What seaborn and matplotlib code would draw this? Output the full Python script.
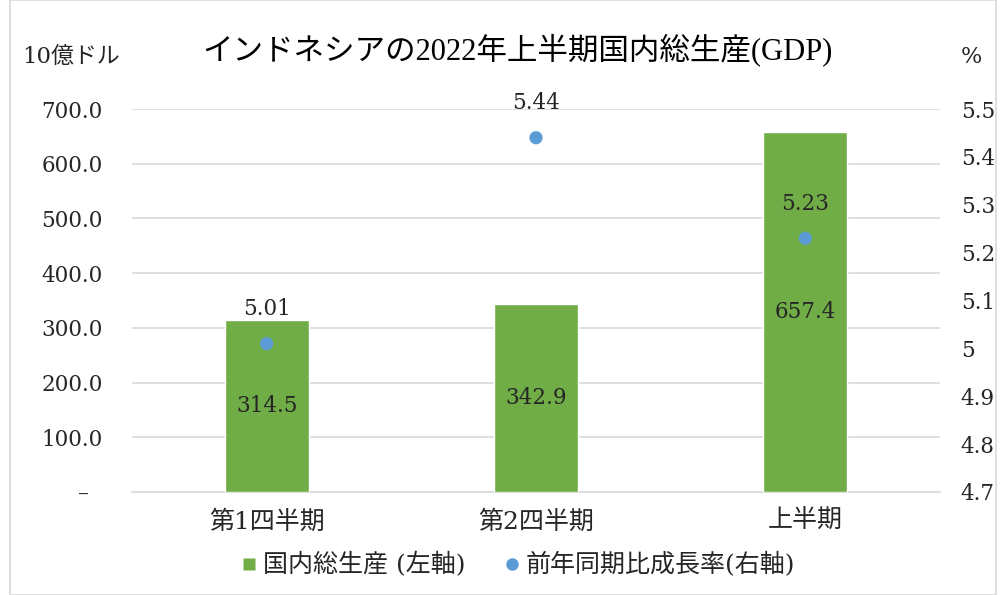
import matplotlib
matplotlib.use("Agg")
import matplotlib.pyplot as plt
import seaborn as sns
import pandas as pd
from matplotlib.ticker import FuncFormatter, FixedLocator
from matplotlib.patches import Rectangle
from matplotlib.lines import Line2D

categories = ["第1四半期", "第2四半期", "上半期"]
gdp = [314.5, 342.9, 657.4]
growth = [5.01, 5.44, 5.23]
left_ticks = [0, 100, 200, 300, 400, 500, 600, 700]
right_ticks = [4.7, 4.8, 4.9, 5.0, 5.1, 5.2, 5.3, 5.4, 5.5]

title = "インドネシアの2022年上半期国内総生産(GDP)"
left_unit = "10億ドル"
right_unit = "%"
legend_gdp = "国内総生産 (左軸)"
legend_growth = "前年同期比成長率(右軸)"

GREEN = "#70AD47"
BLUE = "#5B9BD5"
TXT = "#262626"
FAM = ['DejaVu Serif', 'Noto Sans CJK JP']

sns.set_theme(style="white")
plt.rcParams['font.family'] = FAM

df = pd.DataFrame({"cat": categories, "gdp": gdp, "growth": growth})

W, H = 1006, 595
fig = plt.figure(figsize=(W / 100, H / 100), dpi=100)
ax = fig.add_axes([132 / W, 1 - 492 / H, (940 - 132) / W, (492 - 109) / H])

sns.barplot(data=df, x="cat", y="gdp", color=GREEN, width=0.312, ax=ax,
            saturation=1, zorder=3)
ax.set_ylim(0, 700)
ax.set_xlim(-0.5, 2.5)
ax.yaxis.set_major_locator(FixedLocator(left_ticks))
ax.yaxis.set_major_formatter(FuncFormatter(lambda v, p: "–  " if v == 0 else f"{v:.1f}"))
ax.grid(axis="y", color="#D9D9D9", linewidth=1.2, zorder=0)
ax.set_axisbelow(True)
for s in ["top", "right", "left"]:
    ax.spines[s].set_visible(False)
ax.spines["bottom"].set_color("#D9D9D9")
ax.spines["bottom"].set_linewidth(1.2)
ax.tick_params(axis="y", length=0, pad=21, labelsize=15.5, labelcolor=TXT)
ax.tick_params(axis="x", length=0, pad=13, labelsize=18, labelcolor=TXT)
ax.set_xlabel("")
ax.set_ylabel("")

for i, v in enumerate(gdp):
    ax.text(i, v / 2, f"{v:.1f}", ha="center", va="center", fontsize=15.5,
            color=TXT, zorder=5)

ax2 = ax.twinx()
sns.scatterplot(data=df, x="cat", y="growth", color=BLUE, s=90, ax=ax2,
                edgecolor="none", zorder=4)
ax2.set_ylim(4.7, 5.5)
ax2.set_xlim(-0.5, 2.5)
ax2.yaxis.set_major_locator(FixedLocator(right_ticks))
ax2.yaxis.set_major_formatter(FuncFormatter(lambda v, p: f"{v:g}"))
for s in ["top", "right", "left", "bottom"]:
    ax2.spines[s].set_visible(False)
ax2.tick_params(axis="y", length=0, pad=15, labelsize=15.5, labelcolor=TXT)
ax2.set_ylabel("")
ax2.set_xlabel("")
for i, v in enumerate(growth):
    ax2.annotate(f"{v:.2f}", (i, v), xytext=(0, 25), textcoords="offset points",
                 ha="center", va="center", fontsize=15.5, color=TXT)

fig.text(518 / W, 1 - 50 / H, title, ha="center", va="center", fontsize=22,
         color="black", family=['Liberation Serif', 'Noto Sans CJK JP'])
fig.text(22 / W, 1 - 57 / H, left_unit, ha="left", va="center", fontsize=16.5,
         color=TXT)
fig.text(971 / W, 1 - 57 / H, right_unit, ha="center", va="center", fontsize=16,
         color=TXT)

handles = [
    Line2D([0], [0], marker="s", color="none", markerfacecolor=GREEN,
           markeredgecolor="none", markersize=8.5),
    Line2D([0], [0], marker="o", color="none", markerfacecolor=BLUE,
           markeredgecolor="none", markersize=9),
]
fig.legend(handles, [legend_gdp, legend_growth], loc="center",
           bbox_to_anchor=(519 / W, 1 - 565 / H), ncol=2, frameon=False,
           fontsize=18, handlelength=0.5, handletextpad=0.3, columnspacing=1.6,
           labelcolor=TXT)

fig.patches.append(Rectangle((10 / W, 0), 1 - 20 / W, 1.0, transform=fig.transFigure,
                             fill=False, edgecolor="#D9D9D9", linewidth=1.2))

fig.savefig("out.png", dpi=100)
